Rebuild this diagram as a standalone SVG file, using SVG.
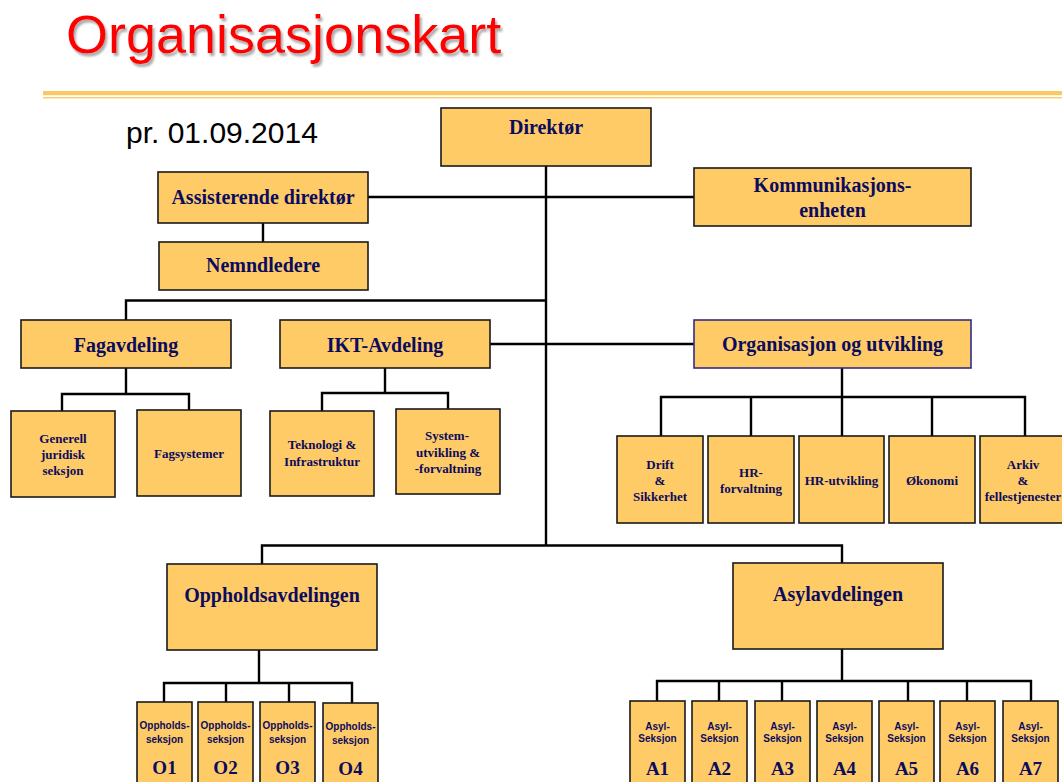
<svg xmlns="http://www.w3.org/2000/svg" width="1062" height="782" viewBox="0 0 1062 782">
<style>
.box{fill:#FECB66;stroke:#1a1a1a;stroke-width:1.6}
.blue{stroke:#2E2E8A}
.t{font-family:"Liberation Serif","Times New Roman",serif;font-weight:bold;fill:#0C0C5E;text-anchor:middle}
.l{font-size:20px}
.s{font-size:13px}
.ss{font-family:"Liberation Sans",Arial,sans-serif;font-weight:bold;font-size:10px;fill:#0C0C5E;text-anchor:middle}
.c{fill:none;stroke:#000;stroke-width:2.4}
</style>
<defs>
<filter id="sh" x="-5%" y="-20%" width="110%" height="150%">
<feDropShadow dx="2" dy="3" stdDeviation="1.2" flood-color="#888" flood-opacity="0.7"/>
</filter>
</defs>
<rect width="1062" height="782" fill="#fff"/>
<text x="66" y="53" font-family="'Liberation Sans',Arial,sans-serif" font-size="54" fill="#FF0000" filter="url(#sh)">Organisasjonskart</text>
<rect x="43" y="91" width="1019" height="4.2" fill="#FBC862"/>
<rect x="43" y="97" width="1019" height="1.4" fill="#FBCB6E"/>
<text x="126" y="143" font-family="'Liberation Sans',Arial,sans-serif" font-size="30" fill="#000">pr. 01.09.2014</text>
<g id="connectors">
<path class="c" d="M546,166V545"/>
<path class="c" d="M368,197H694"/>
<path class="c" d="M263,223V242"/>
<path class="c" d="M126,320V300.5H546"/>
<path class="c" d="M490,344H694"/>
<path class="c" d="M126,368V394M62,411V394H189V410"/>
<path class="c" d="M385,368V393M322,411V393H448V409"/>
<path class="c" d="M842,368V397M661,436V397H1025V436M751,397V436M842,397V436M932,397V436"/>
<path class="c" d="M262,564V545.5H842V563"/>
<path class="c" d="M259,650V683M164,702V683H352V703M226,683V702M289,683V702"/>
<path class="c" d="M842,649V681M657,701V681H1031V701M719,681V701M782,681V701M908,681V701M967,681V701"/>
</g>
<g id="direktor"><rect class="box" x="441" y="108" width="210" height="58"/><text class="t l" x="546" y="134">Direktør</text></g>
<g id="assisterende"><rect class="box" x="158" y="172" width="210" height="51"/><text class="t l" x="263" y="204">Assisterende direktør</text></g>
<g id="kommunikasjon"><rect class="box" x="694" y="168" width="277" height="58"/><text class="t l" x="832.5" y="192">Kommunikasjons-</text><text class="t l" x="832.5" y="217">enheten</text></g>
<g id="nemndledere"><rect class="box" x="159" y="242" width="209" height="48"/><text class="t l" x="263" y="272">Nemndledere</text></g>
<g id="fagavdeling"><rect class="box" x="21" y="320" width="210" height="48"/><text class="t l" x="126" y="352">Fagavdeling</text></g>
<g id="ikt"><rect class="box" x="280" y="320" width="210" height="48"/><text class="t l" x="385" y="352">IKT-Avdeling</text></g>
<g id="orgutv"><rect class="box blue" x="694" y="320" width="277" height="48"/><text class="t l" x="832.5" y="351">Organisasjon og utvikling</text></g>
<g id="generell"><rect class="box" x="11" y="411" width="104" height="86"/><text class="t s" x="63" y="443">Generell</text><text class="t s" x="63" y="459">juridisk</text><text class="t s" x="63" y="475">seksjon</text></g>
<g id="fagsystemer"><rect class="box" x="137" y="410" width="104" height="86"/><text class="t s" x="189" y="458">Fagsystemer</text></g>
<g id="teknologi"><rect class="box" x="270" y="411" width="104" height="85"/><text class="t s" x="322" y="449">Teknologi &amp;</text><text class="t s" x="322" y="466">Infrastruktur</text></g>
<g id="systemutvikling"><rect class="box" x="396" y="409" width="104" height="85"/><text class="t s" x="447" y="440">System-</text><text class="t s" x="448" y="457">utvikling &amp;</text><text class="t s" x="448" y="473">-forvaltning</text></g>
<g id="drift"><rect class="box" x="617" y="436" width="86" height="87"/><text class="t s" x="660" y="469">Drift</text><text class="t s" x="660" y="485">&amp;</text><text class="t s" x="660" y="501">Sikkerhet</text></g>
<g id="hrforvaltning"><rect class="box" x="708" y="436" width="86" height="87"/><text class="t s" x="751" y="477">HR-</text><text class="t s" x="751" y="493">forvaltning</text></g>
<g id="hrutvikling"><rect class="box" x="799" y="436" width="85" height="87"/><text class="t s" x="841.5" y="485">HR-utvikling</text></g>
<g id="okonomi"><rect class="box" x="889" y="436" width="86" height="87"/><text class="t s" x="932" y="485">Økonomi</text></g>
<g id="arkiv"><rect class="box" x="980" y="436" width="87" height="87"/><text class="t s" x="1023" y="469">Arkiv</text><text class="t s" x="1023" y="485">&amp;</text><text class="t s" x="1023" y="501">fellestjenester</text></g>
<g id="opphold"><rect class="box" x="167" y="564" width="210" height="86"/><text class="t l" x="272" y="602">Oppholdsavdelingen</text></g>
<g id="asyl"><rect class="box" x="733" y="563" width="210" height="86"/><text class="t l" x="838" y="601">Asylavdelingen</text></g>
<g id="o1"><rect class="box" x="137" y="702" width="55" height="90"/><text class="ss" x="164.5" y="729">Oppholds-</text><text class="ss" x="164.5" y="742.5">seksjon</text><text class="t" font-size="19" x="164.5" y="774">O1</text></g>
<g id="o2"><rect class="box" x="198" y="702" width="55" height="90"/><text class="ss" x="225.5" y="729">Oppholds-</text><text class="ss" x="225.5" y="742.5">seksjon</text><text class="t" font-size="19" x="225.5" y="774">O2</text></g>
<g id="o3"><rect class="box" x="260" y="702" width="55" height="90"/><text class="ss" x="287.5" y="729">Oppholds-</text><text class="ss" x="287.5" y="742.5">seksjon</text><text class="t" font-size="19" x="287.5" y="774">O3</text></g>
<g id="o4"><rect class="box" x="323" y="703" width="55" height="90"/><text class="ss" x="350.5" y="730">Oppholds-</text><text class="ss" x="350.5" y="743.5">seksjon</text><text class="t" font-size="19" x="350.5" y="775">O4</text></g>
<g id="a1"><rect class="box" x="630" y="701" width="55" height="90"/><text class="ss" x="657.5" y="730">Asyl-</text><text class="ss" x="657.5" y="742">Seksjon</text><text class="t" font-size="19" x="657.5" y="775">A1</text></g>
<g id="a2"><rect class="box" x="692" y="701" width="55" height="90"/><text class="ss" x="719.5" y="730">Asyl-</text><text class="ss" x="719.5" y="742">Seksjon</text><text class="t" font-size="19" x="719.5" y="775">A2</text></g>
<g id="a3"><rect class="box" x="755" y="701" width="55" height="90"/><text class="ss" x="782.5" y="730">Asyl-</text><text class="ss" x="782.5" y="742">Seksjon</text><text class="t" font-size="19" x="782.5" y="775">A3</text></g>
<g id="a4"><rect class="box" x="817" y="701" width="55" height="90"/><text class="ss" x="844.5" y="730">Asyl-</text><text class="ss" x="844.5" y="742">Seksjon</text><text class="t" font-size="19" x="844.5" y="775">A4</text></g>
<g id="a5"><rect class="box" x="879" y="701" width="55" height="90"/><text class="ss" x="906.5" y="730">Asyl-</text><text class="ss" x="906.5" y="742">Seksjon</text><text class="t" font-size="19" x="906.5" y="775">A5</text></g>
<g id="a6"><rect class="box" x="940" y="701" width="55" height="90"/><text class="ss" x="967.5" y="730">Asyl-</text><text class="ss" x="967.5" y="742">Seksjon</text><text class="t" font-size="19" x="967.5" y="775">A6</text></g>
<g id="a7"><rect class="box" x="1003" y="701" width="55" height="90"/><text class="ss" x="1030.5" y="730">Asyl-</text><text class="ss" x="1030.5" y="742">Seksjon</text><text class="t" font-size="19" x="1030.5" y="775">A7</text></g>
</svg>
